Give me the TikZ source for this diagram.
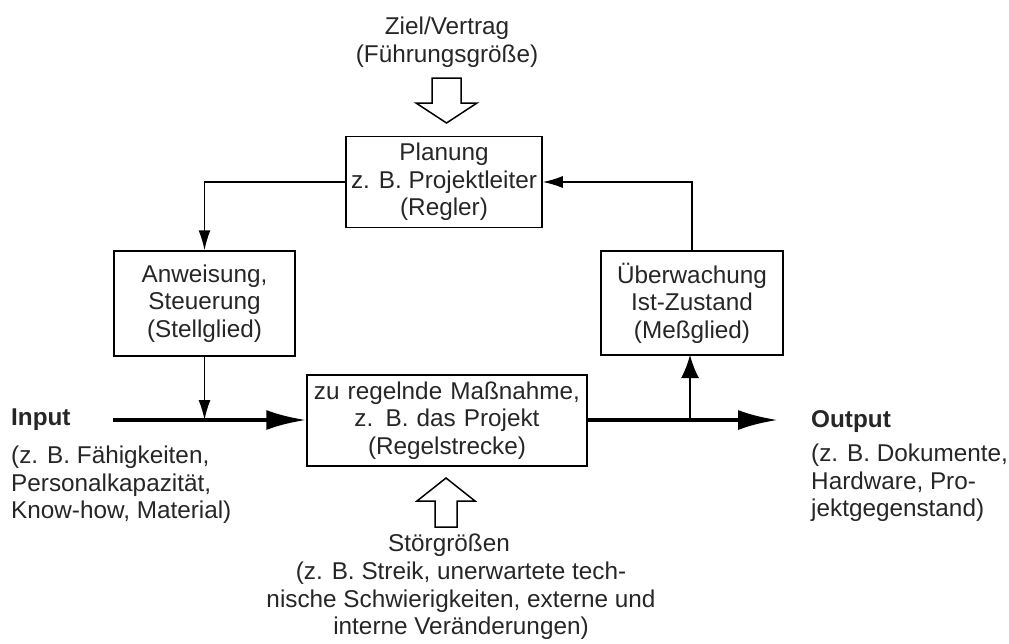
\documentclass[tikz,border=0pt]{standalone}
\usepackage{fontspec}
\setmainfont{Liberation Sans}
\usetikzlibrary{arrows.meta}
\begin{document}
\begin{tikzpicture}[x=1pt,y=-1pt,
  txt/.style={align=center,inner sep=0pt,text=black!85,font=\fontsize{24.3}{27.5}\selectfont},
  box/.style={txt,draw=black,line width=1.5pt},
  fineArrow/.style={line width=1.5pt,-{Latex[length=20pt,width=12pt]}},
  upArrow/.style={line width=1.5pt,-{Latex[length=23pt,width=18pt]}},
  boldArrow/.style={line width=4pt,-{Latex[length=40pt,width=20pt]}},
  hollow/.style={draw=black,line width=1.5pt,fill=white,line join=miter}]
\useasboundingbox (0,0) rectangle (1009,643);

% boxes
\node[box,minimum width=196pt,minimum height=91pt] (plan) at (444,182) {Planung\\z. B. Projektleiter\\(Regler)};
\node[box,minimum width=181pt,minimum height=105pt] (anw) at (204.5,303.5) {Anweisung,\\Steuerung\\(Stellglied)};
\node[box,minimum width=182pt,minimum height=104pt] (ueb) at (692,303) {Überwachung\\Ist-Zustand\\(Meßglied)};
\node[box,minimum width=280pt,minimum height=91pt,text width=272pt] (reg) at (447,420.5) {zu regelnde Maßnahme,\\z. B. das Projekt\\(Regelstrecke)};

% labels
\node[txt] (ziel) at (447,42) {Ziel/Vertrag\\(Führungsgröße)};
\node[txt] (stoer) at (449,545) {Störgrößen};
\node[txt,anchor=north] (stoerdesc) at (461,562) {(z. B. Streik, unerwartete tech-\\nische Schwierigkeiten, externe und\\interne Veränderungen)};
\node[txt,anchor=west,font=\fontsize{24.3}{27.5}\selectfont\bfseries] (inlbl) at (11,420) {Input};
\node[txt,anchor=west,align=left] (indesc) at (11,485) {(z. B. Fähigkeiten,\\Personalkapazität,\\Know-how, Material)};
\node[txt,anchor=west,font=\fontsize{24.3}{27.5}\selectfont\bfseries] (outlbl) at (811,422) {Output};
\node[txt,anchor=west,align=left] (outdesc) at (811,483) {(z. B. Dokumente,\\Hardware, Pro-\\jektgegenstand)};

% connectors
\coordinate (inStart) at (113,420);
\coordinate (outEnd) at (778,420);
\draw[fineArrow] (plan.west) -| (anw.north);
\draw[fineArrow] (ueb.north) |- (plan.east);
\draw[boldArrow] (inStart) -- (reg.west |- inStart);
\draw[fineArrow] (anw.south) -- (anw.south |- inStart);
\draw[boldArrow] (reg.east |- outEnd) -- (outEnd);
\draw[upArrow] (690,420) -- (690,355);

% hollow arrows
\draw[hollow] (432,78) -- (461,78) -- (461,103) -- (477,103) -- (446.5,123) -- (416,103) -- (432,103) -- cycle;
\draw[hollow] (435,527) -- (457,527) -- (457,501) -- (475,501) -- (446,478) -- (417,501) -- (435,501) -- cycle;
\end{tikzpicture}
\end{document}
